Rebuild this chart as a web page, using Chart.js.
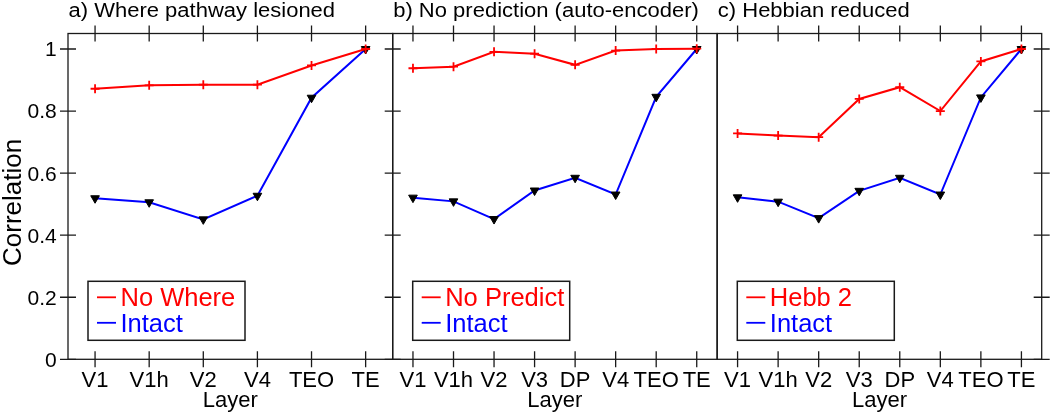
<!DOCTYPE html>
<html><head><meta charset="utf-8">
<script src="https://cdn.jsdelivr.net/npm/chart.js@4.4.1/dist/chart.umd.min.js"></script>
<style>
html,body{margin:0;padding:0;background:#fff;}
#wrap{position:relative;width:1050px;height:414px;overflow:hidden;background:#fff;}
canvas{position:absolute;left:0;top:0;}
</style></head><body>
<div id="wrap">
<canvas id="c1" width="1050" height="414"></canvas>
<canvas id="c2" width="1050" height="414"></canvas>
<canvas id="c3" width="1050" height="414"></canvas>
</div>
<script>
// ---- data ----
const layersA = ['V1','V1h','V2','V4','TEO','TE'];
const layersB = ['V1','V1h','V2','V3','DP','V4','TEO','TE'];
const layersC = ['V1','V1h','V2','V3','DP','V4','TEO','TE'];
const noWhere   = [0.872,0.883,0.885,0.885,0.947,1.000];
const intactA   = [0.519,0.506,0.451,0.527,0.843,1.000];
const noPredict = [0.938,0.943,0.991,0.985,0.949,0.995,1.000,1.001];
const intactB   = [0.521,0.509,0.452,0.544,0.585,0.531,0.846,1.000];
const hebb2     = [0.728,0.721,0.716,0.839,0.877,0.800,0.960,1.000];
const intactC   = [0.522,0.508,0.455,0.543,0.585,0.531,0.844,1.000];
const yTicks = [0,0.2,0.4,0.6,0.8,1];
const yTickLabels = ['0','0.2','0.4','0.6','0.8','1'];
const panelTitles = ['a) Where pathway lesioned','b) No prediction (auto-encoder)','c) Hebbian reduced'];
const seriesNamesA = ['No Where','Intact'];
const seriesNamesB = ['No Predict','Intact'];
const seriesNamesC = ['Hebb 2','Intact'];
const xTitle = 'Layer';
const yTitle = 'Correlation';

const FONT = '"Liberation Sans", Arial, Helvetica, sans-serif';
const RED = '#ff0000', BLUE = '#0000ff', INK = '#1a1a1a';

function txt(ctx, s, x, y, size, color, align, sx, rot){
  ctx.save();
  ctx.translate(x, y);
  if (rot) ctx.rotate(rot);
  ctx.scale(sx || 1, 1);
  ctx.font = size + 'px ' + FONT;
  ctx.fillStyle = color;
  ctx.textAlign = align;
  ctx.textBaseline = 'alphabetic';
  ctx.fillText(s, 0, 0);
  ctx.restore();
}

const framePlugin = {
  id: 'frame',
  afterDraw(chart, args, o){
    const ctx = chart.ctx, a = chart.chartArea;
    const xs = chart.scales.x, ys = chart.scales.y;
    ctx.save();
    ctx.strokeStyle = INK; ctx.lineWidth = 1.3;
    ctx.strokeRect(a.left, a.top, a.right - a.left, a.bottom - a.top);
    const n = chart.data.labels.length;
    ctx.beginPath();
    for (let i = 0; i < n; i++){
      const px = xs.getPixelForValue(i);
      ctx.moveTo(px, a.top - 8); ctx.lineTo(px, a.top + 8);
      ctx.moveTo(px, a.bottom - 8); ctx.lineTo(px, a.bottom + 8);
    }
    yTicks.forEach(v => {
      const py = ys.getPixelForValue(v);
      if (o.yLeft){ ctx.moveTo(a.left - 8, py); ctx.lineTo(a.left + 8, py); }
      if (o.yRight){ ctx.moveTo(a.right - 8, py); ctx.lineTo(a.right + 8, py); }
    });
    ctx.stroke();
    ctx.restore();

    chart.data.labels.forEach((l, i) => {
      txt(ctx, l, xs.getPixelForValue(i), a.bottom + 27.3, 22, '#000', 'center');
    });
    if (o.yLabels){
      yTicks.forEach((v, i) => {
        txt(ctx, yTickLabels[i], a.left - 11.3, ys.getPixelForValue(v) + 7.4, 21, '#000', 'right');
      });
      txt(ctx, yTitle, 21, (a.top + a.bottom) / 2 + 6, 26, '#000', 'center', 1, -Math.PI / 2);
    }
    txt(ctx, xTitle, (a.left + a.right) / 2, 407, 22, '#000', 'center');
    txt(ctx, o.title, a.left + 0.5, 16.5, 20, '#000', 'left', 1.1);
    const bx = a.left + 20, bw = 157, bh = 59, by = a.bottom - 19 - bh;
    ctx.save();
    ctx.fillStyle = '#fff';
    ctx.fillRect(bx, by, bw, bh);
    ctx.strokeStyle = INK; ctx.lineWidth = 1.5;
    ctx.strokeRect(bx, by, bw, bh);
    const ds = chart.data.datasets;
    [0, 1].forEach(k => {
      const base = by + 25 + k * 25.5;
      ctx.strokeStyle = ds[k].borderColor; ctx.lineWidth = 1.8;
      ctx.beginPath(); ctx.moveTo(bx + 9, base - 9); ctx.lineTo(bx + 28, base - 9); ctx.stroke();
      txt(ctx, ds[k].label, bx + 32.5, base, 25.5, ds[k].borderColor, 'left');
    });
    ctx.restore();
  }
};

function makeChart(id, labels, red, blue, names, title, pad, yOpts){
  return new Chart(document.getElementById(id), {
    type: 'line',
    data: {
      labels: labels,
      datasets: [
        { label: names[0], data: red, borderColor: RED, backgroundColor: RED,
          borderWidth: 2, pointStyle: 'cross', pointRadius: 4.5, pointBorderWidth: 1.8,
          pointBorderColor: RED, tension: 0, clip: false },
        { label: names[1], data: blue, borderColor: BLUE, backgroundColor: BLUE,
          borderWidth: 2, pointStyle: 'triangle', pointRotation: 180, pointRadius: 5,
          pointBackgroundColor: '#000', pointBorderColor: '#000', pointBorderWidth: 1,
          tension: 0, clip: false }
      ]
    },
    options: {
      responsive: false, animation: false, devicePixelRatio: 1,
      layout: { padding: pad },
      plugins: { legend: { display: false }, tooltip: { enabled: false }, title: { display: false },
        frame: Object.assign({ title: title }, yOpts) },
      scales: {
        x: { type: 'category', offset: true, display: false },
        y: { min: 0, max: 1.05, display: false }
      }
    },
    plugins: [framePlugin]
  });
}

makeChart('c1', layersA, noWhere, intactA, seriesNamesA, panelTitles[0],
  { left: 68, right: 1050 - 392.7, top: 33.5, bottom: 414 - 359.3 }, { yLeft: true, yLabels: true });
makeChart('c2', layersB, noPredict, intactB, seriesNamesB, panelTitles[1],
  { left: 392.7, right: 1050 - 717, top: 33.5, bottom: 414 - 359.3 }, { yLeft: true });
makeChart('c3', layersC, hebb2, intactC, seriesNamesC, panelTitles[2],
  { left: 717.3, right: 1050 - 1041.7, top: 33.5, bottom: 414 - 359.3 }, { yRight: true });
</script>
</body></html>
